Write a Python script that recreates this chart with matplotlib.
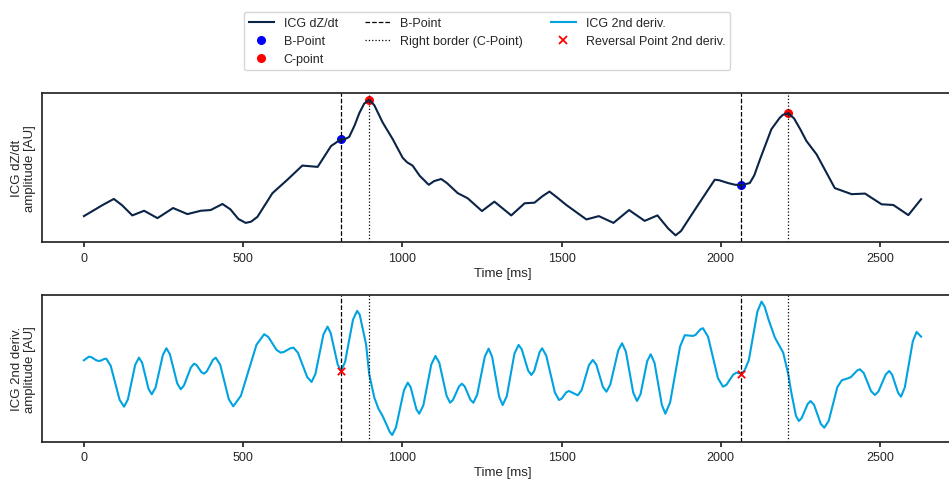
import matplotlib.pyplot as plt
from matplotlib.lines import Line2D

# ICG dZ/dt signal (time in ms, amplitude in AU)
t_icg = [0, 60, 94, 120, 152, 189, 231, 280, 325, 367, 398, 435, 460, 485, 508,
         525, 545, 592, 639, 686, 734, 776, 807, 820, 833, 850, 865, 880, 896,
         912, 938, 970, 1001, 1015, 1032, 1055, 1083, 1100, 1122, 1140, 1174,
         1205, 1250, 1289, 1342, 1384, 1415, 1440, 1462, 1485, 1515, 1578, 1617,
         1663, 1712, 1761, 1801, 1835, 1858, 1875, 1918, 1981, 1995, 2023, 2045,
         2064, 2091, 2105, 2123, 2159, 2185, 2195, 2212, 2230, 2250, 2269, 2301,
         2358, 2411, 2453, 2505, 2542, 2589, 2629]
icg = [27.3, 38.5, 44.3, 38.0, 28.0, 32.6, 25.3, 35.3, 29.3, 32.6, 33.3, 39.3,
       34.0, 24.5, 20.6, 21.8, 26.6, 50.0, 63.3, 77.3, 76.0, 96.6, 103.3, 103.5,
       105.6, 117.0, 129.3, 138.5, 142.3, 137.0, 120.0, 103.3, 85.0, 80.5, 77.3,
       67.0, 58.3, 62.0, 64.0, 60.0, 50.0, 45.0, 32.3, 41.6, 28.0, 40.0, 40.6,
       47.0, 51.6, 46.0, 38.3, 24.0, 27.3, 20.6, 33.3, 22.6, 28.0, 15.0, 8.3,
       12.5, 33.3, 63.3, 62.8, 60.0, 58.3, 58.0, 60.0, 67.5, 83.3, 113.3, 124.5,
       127.5, 129.0, 124.0, 113.0, 101.6, 88.3, 55.0, 49.0, 49.6, 39.0, 38.3,
       28.3, 44.0]

# ICG 2nd derivative
t_d2 = [0, 16, 24, 39, 47, 53, 64, 70, 84, 112, 126, 138, 161, 173, 183, 203,
        213, 225, 248, 259, 270, 293, 304, 314, 336, 346, 354, 369, 377, 386,
        405, 414, 428, 455, 469, 493, 542, 566, 579, 605, 618, 628, 648, 658,
        672, 701, 715, 727, 752, 765, 775, 797, 807, 820, 845, 858, 866, 874,
        886, 896, 912, 925, 938, 952, 960, 968, 980, 1005, 1017, 1026, 1044,
        1053, 1066, 1091, 1104, 1116, 1139, 1150, 1159, 1178, 1187, 1196, 1214,
        1223, 1235, 1259, 1271, 1282, 1304, 1315, 1328, 1352, 1365, 1375, 1395,
        1405, 1414, 1431, 1439, 1452, 1479, 1492, 1500, 1515, 1523, 1551, 1563,
        1586, 1598, 1609, 1630, 1641, 1653, 1678, 1690, 1702, 1725, 1737, 1748,
        1769, 1780, 1792, 1815, 1826, 1841, 1872, 1887, 1913, 1921, 1936, 1944,
        1960, 1991, 2007, 2018, 2039, 2049, 2064, 2075, 2088, 2115, 2128, 2138,
        2150, 2170, 2196, 2212, 2221, 2236, 2245, 2254, 2273, 2282, 2293, 2314,
        2325, 2339, 2366, 2380, 2400, 2409, 2428, 2437, 2449, 2472, 2484, 2495,
        2518, 2529, 2538, 2557, 2566, 2578, 2603, 2615, 2629]
d2 = [81.4, 85.0, 84.4, 81.3, 80.7, 81.0, 82.7, 83.0, 76.0, 42.0, 35.0, 42.2,
      76.8, 84.0, 78.7, 52.7, 47.4, 54.1, 86.7, 93.4, 87.4, 58.4, 52.4, 56.1,
      74.3, 78.0, 76.5, 69.5, 68.0, 70.3, 81.7, 84.0, 76.9, 42.5, 35.4, 45.9,
      96.9, 107.4, 104.7, 91.7, 89.0, 89.7, 93.3, 94.0, 89.0, 64.7, 59.7, 67.8,
      106.9, 115.0, 108.5, 77.2, 70.7, 79.5, 121.9, 130.7, 127.0, 115.0, 97.4,
      67.4, 44.0, 33.0, 25.7, 16.0, 10.0, 6.7, 14.3, 51.4, 59.0, 54.5, 32.5,
      28.0, 36.4, 77.3, 85.7, 78.9, 45.8, 39.0, 41.8, 55.2, 58.0, 55.2, 41.8,
      39.0, 46.9, 85.1, 93.0, 84.8, 44.9, 36.7, 45.5, 88.0, 96.7, 92.3, 71.1,
      66.7, 70.6, 89.5, 93.4, 85.9, 49.2, 41.7, 43.0, 49.4, 50.7, 46.4, 51.6,
      76.5, 81.7, 77.1, 54.6, 50.0, 57.1, 91.3, 98.4, 90.0, 49.1, 40.7, 47.5,
      80.6, 87.4, 78.7, 36.7, 28.0, 39.4, 95.0, 106.4, 105.7, 106.8, 112.3,
      113.4, 104.9, 63.5, 55.0, 57.0, 67.0, 69.0, 68.0, 71.4, 81.4, 130.0,
      140.0, 134.7, 122.0, 104.0, 89.0, 67.4, 50.0, 26.0, 20.7, 23.6, 37.8,
      40.7, 36.8, 17.9, 14.0, 20.9, 54.5, 61.4, 63.4, 64.7, 71.1, 72.4, 68.6,
      50.5, 46.7, 50.2, 67.2, 70.7, 67.0, 48.8, 45.0, 54.4, 100.3, 109.7, 105.0]

# detected points
b_points = [807, 2064]
b_values = [103.3, 58.0]
c_points = [896, 2212]
c_values = [142.3, 129.0]
rev_values = [70.7, 68.0]

col_icg = "#0a2346"
col_d2 = "#00a3e0"

plt.rcParams['font.family'] = ['Liberation Sans', 'DejaVu Sans']
plt.rcParams['text.color'] = '#262626'
plt.rcParams['axes.labelcolor'] = '#262626'
plt.rcParams['xtick.color'] = '#262626'
plt.rcParams['axes.edgecolor'] = '#262626'
plt.rcParams['axes.linewidth'] = 1.25

fig = plt.figure(figsize=(9.49, 4.81), dpi=100)
ax1 = fig.add_axes([0.0443, 0.4946, 0.9704, 0.3098])
ax2 = fig.add_axes([0.0443, 0.0796, 0.9704, 0.3052])

ax1.scatter(b_points, b_values, color="blue", s=30, zorder=1.5)
ax1.scatter(c_points, c_values, color="red", s=30, zorder=1.5)
ax1.plot(t_icg, icg, color=col_icg, lw=1.5, zorder=3)

ax2.plot(t_d2, d2, color=col_d2, lw=1.5, zorder=2)
ax2.scatter(b_points, rev_values, color="red", marker="x", s=28, lw=1.3, zorder=3)

for ax in (ax1, ax2):
    for b in b_points:
        ax.axvline(b, color="black", ls="--", lw=0.9, zorder=2.5)
    for c in c_points:
        ax.axvline(c, color="black", ls=":", lw=0.9, zorder=2.5)
    ax.set_xlim(-131.5, 2760.5)
    ax.set_yticks([])
    ax.set_xticks([0, 500, 1000, 1500, 2000, 2500])
    ax.tick_params(axis="x", labelsize=9, width=1.25)
    ax.set_xlabel("Time [ms]", fontsize=9.5, labelpad=2)

ax1.set_ylabel("ICG dZ/dt\namplitude [AU]", fontsize=9.5)
ax2.set_ylabel("ICG 2nd deriv.\namplitude [AU]", fontsize=9.5)

handles = [
    Line2D([], [], color=col_icg, lw=1.5),
    Line2D([], [], color="blue", marker="o", ls="none", markersize=5.5),
    Line2D([], [], color="red", marker="o", ls="none", markersize=5.5),
    Line2D([], [], color="black", ls="--", lw=0.9),
    Line2D([], [], color="black", ls=":", lw=0.9),
    Line2D([], [], color=col_d2, lw=1.5),
    Line2D([], [], color="red", marker="x", ls="none", markersize=5.5, mew=1.3),
]
labels = ["ICG dZ/dt", "B-Point", "C-point", "B-Point", "Right border (C-Point)",
          "ICG 2nd deriv.", "Reversal Point 2nd deriv."]
fig.legend(handles, labels, ncol=3, loc="upper center", fontsize=9,
           bbox_to_anchor=(0.513, 0.986), columnspacing=2.2)

fig.savefig("out.png", dpi=100)
